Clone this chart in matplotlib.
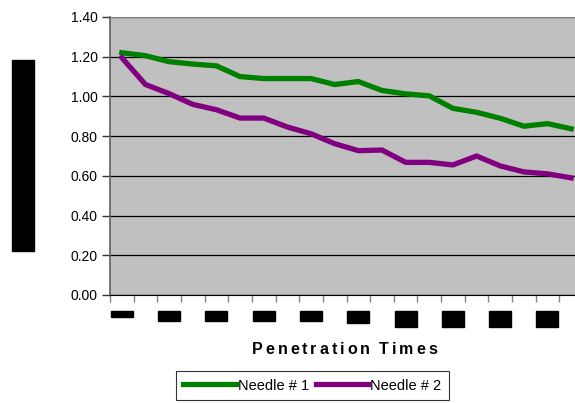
import matplotlib.pyplot as plt
from matplotlib.patches import Rectangle
from matplotlib.transforms import blended_transform_factory

# Friction readings per penetration for two needles
times = list(range(1, 21))
needle1 = [1.22, 1.205, 1.175, 1.163, 1.154, 1.10, 1.09, 1.09, 1.09, 1.06,
           1.075, 1.03, 1.013, 1.003, 0.94, 0.92, 0.89, 0.85, 0.863, 0.837]
needle2 = [1.195, 1.06, 1.014, 0.96, 0.933, 0.891, 0.891, 0.846, 0.812, 0.762,
           0.727, 0.73, 0.668, 0.668, 0.655, 0.70, 0.65, 0.62, 0.61, 0.59]

# every other category carries a (blacked-out) label
label_cats = [1, 3, 5, 7, 9, 11, 13, 15, 17, 19]
label_heights = [6, 10, 10, 10, 10, 12, 16, 16, 16, 16]  # px

plt.rcParams['font.family'] = ['Liberation Sans', 'DejaVu Sans']

W, H = 575, 403
fig = plt.figure(figsize=(W / 100, H / 100), dpi=100)
ax = fig.add_axes([110 / W, 1 - 295 / H, 473 / W, 278 / H])
ax.set_facecolor('#c0c0c0')

ax.plot(times, needle1, color='#008000', linewidth=3.8, label='Needle # 1',
        solid_joinstyle='miter', zorder=3)
ax.plot(times, needle2, color='#800080', linewidth=3.8, label='Needle # 2',
        solid_joinstyle='miter', zorder=3)

ax.set_xlim(0.5, 20.5)
ax.set_ylim(0, 1.4)
ax.set_yticks([0.2 * i for i in range(8)])
ax.set_yticklabels(['%.2f' % (0.2 * i) for i in range(8)], fontsize=10)
ax.set_xticks([t + 0.5 for t in range(0, 21)])
ax.set_xticklabels([])
ax.yaxis.grid(True, color='black', linewidth=0.9)
ax.set_axisbelow(True)

ax.tick_params(axis='y', length=6, width=1, color='#333333', pad=3)
ax.tick_params(axis='x', length=5, width=1, color='#808080')
ax.spines['left'].set_color('#606060')
ax.spines['left'].set_linewidth(1.2)
ax.spines['bottom'].set_color('black')
ax.spines['top'].set_color('#808080')
ax.spines['right'].set_visible(False)

# blacked-out category labels under the x axis
trans = blended_transform_factory(ax.transData, fig.transFigure)
for cat, h in zip(label_cats, label_heights):
    top = 1 - 311 / H
    ax.add_artist(Rectangle((cat - 0.47, top - h / H), 0.93, h / H,
                            transform=trans, color='black', clip_on=False))

# blacked-out y axis title
fig.add_artist(Rectangle((12 / W, 1 - 251 / H), 22 / W, 191 / H,
                         transform=fig.transFigure, color='black'))

# x axis title, letter-spaced
title = 'Penetration Times'
renderer = fig.canvas.get_renderer()
x0, x1, ty = 252, 437, 1 - 350 / H
chars = [fig.text(0, ty, c, fontsize=11.5, fontweight='bold', va='center')
         for c in title]
widths = [t.get_window_extent(renderer).width if c != ' ' else 4
          for t, c in zip(chars, title)]
gap = (x1 - x0 - sum(widths)) / (len(title) - 1)
x = x0
for t, w in zip(chars, widths):
    t.set_x(x / W)
    x += w + gap

leg = fig.legend(loc='center', bbox_to_anchor=(312.5 / W, 1 - 385.5 / H), ncol=2,
                 fontsize=10.5, frameon=True, fancybox=False, handlelength=3.6,
                 handletextpad=0.15, columnspacing=0.45, borderpad=0.5,
                 edgecolor='black')
leg.get_frame().set_linewidth(0.8)

fig.savefig('out.png', dpi=100)
